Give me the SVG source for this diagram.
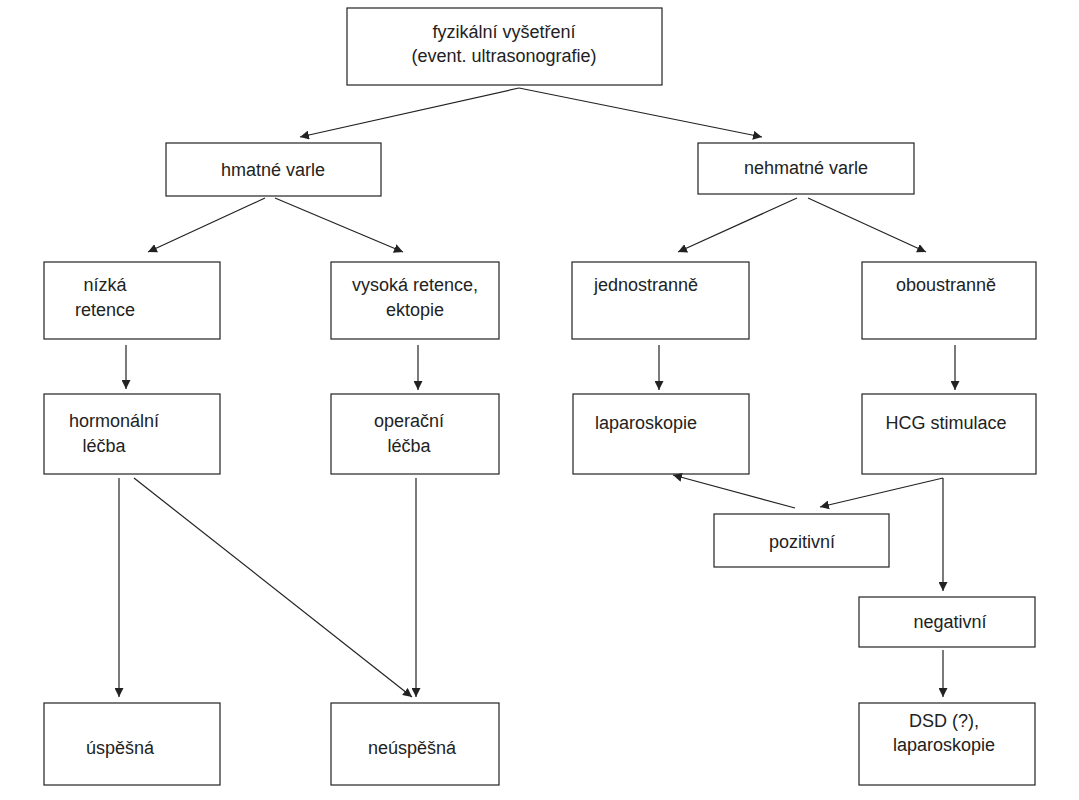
<svg xmlns="http://www.w3.org/2000/svg" width="1079" height="800" viewBox="0 0 1079 800">
<style>
rect{fill:#fff;stroke:#222;stroke-width:1.2}
text{font-family:"Liberation Sans",Arial,sans-serif;font-size:18px;fill:#222;text-anchor:middle}
.c line{stroke:#222;stroke-width:1.2;marker-end:url(#a)}
</style>
<defs><marker id="a" viewBox="0 0 10 10" refX="10" refY="5" markerWidth="9" markerHeight="9" orient="auto" markerUnits="userSpaceOnUse"><path d="M0,0L10,5L0,10z" fill="#222"/></marker></defs>
<rect width="1079" height="800" style="stroke:none"/>
<g id="n1"><rect x="347" y="8" width="315" height="77"/><text x="504" y="38">fyzikální vyšetření</text><text x="504" y="62">(event. ultrasonografie)</text></g>
<g id="n2"><rect x="166" y="143" width="215" height="53"/><text x="273" y="176">hmatné varle</text></g>
<g id="n3"><rect x="698" y="143" width="216" height="51"/><text x="806" y="174">nehmatné varle</text></g>
<g id="n4"><rect x="44" y="262" width="176" height="77"/><text x="105" y="291">nízká</text><text x="105" y="316">retence</text></g>
<g id="n5"><rect x="331" y="262" width="168" height="77"/><text x="415" y="291">vysoká retence,</text><text x="415" y="316">ektopie</text></g>
<g id="n6"><rect x="572" y="262" width="177" height="77"/><text x="646" y="291">jednostranně</text></g>
<g id="n7"><rect x="862" y="262" width="174" height="77"/><text x="946" y="291">oboustranně</text></g>
<g id="n8"><rect x="44" y="394" width="176" height="80"/><text x="114" y="427">hormonální</text><text x="104" y="452">léčba</text></g>
<g id="n9"><rect x="331" y="394" width="168" height="80"/><text x="409" y="427">operační</text><text x="409" y="452">léčba</text></g>
<g id="n10"><rect x="573" y="394" width="176" height="80"/><text x="646" y="429">laparoskopie</text></g>
<g id="n11"><rect x="862" y="394" width="174" height="80"/><text x="946" y="429">HCG stimulace</text></g>
<g id="n12"><rect x="714" y="514" width="175" height="53"/><text x="802" y="548">pozitivní</text></g>
<g id="n13"><rect x="859" y="597" width="176" height="50"/><text x="950" y="628">negativní</text></g>
<g id="n14"><rect x="44" y="703" width="176" height="82"/><text x="120" y="754">úspěšná</text></g>
<g id="n15"><rect x="331" y="703" width="168" height="82"/><text x="412" y="754">neúspěšná</text></g>
<g id="n16"><rect x="859" y="703" width="176" height="82"/><text x="944" y="727">DSD (?),</text><text x="944" y="751">laparoskopie</text></g>
<g class="c">
<line x1="519" y1="88" x2="300" y2="137"/><line x1="519" y1="88" x2="762" y2="137"/>
<line x1="265" y1="198" x2="148" y2="252"/><line x1="275" y1="198" x2="403" y2="252"/>
<line x1="797" y1="198" x2="678" y2="252"/><line x1="808" y1="198" x2="926" y2="252"/>
<line x1="126" y1="345" x2="126" y2="389"/><line x1="418" y1="345" x2="418" y2="390"/>
<line x1="659" y1="345" x2="659" y2="390"/><line x1="955" y1="345" x2="955" y2="390"/>
<line x1="119" y1="478" x2="119" y2="697"/><line x1="134" y1="478" x2="412" y2="697"/>
<line x1="416" y1="478" x2="416" y2="697"/>
<line x1="943" y1="478" x2="820" y2="507"/><line x1="795" y1="508" x2="673" y2="475"/>
<line x1="943" y1="478" x2="943" y2="591"/><line x1="943" y1="650" x2="943" y2="697"/>
</g>
</svg>
